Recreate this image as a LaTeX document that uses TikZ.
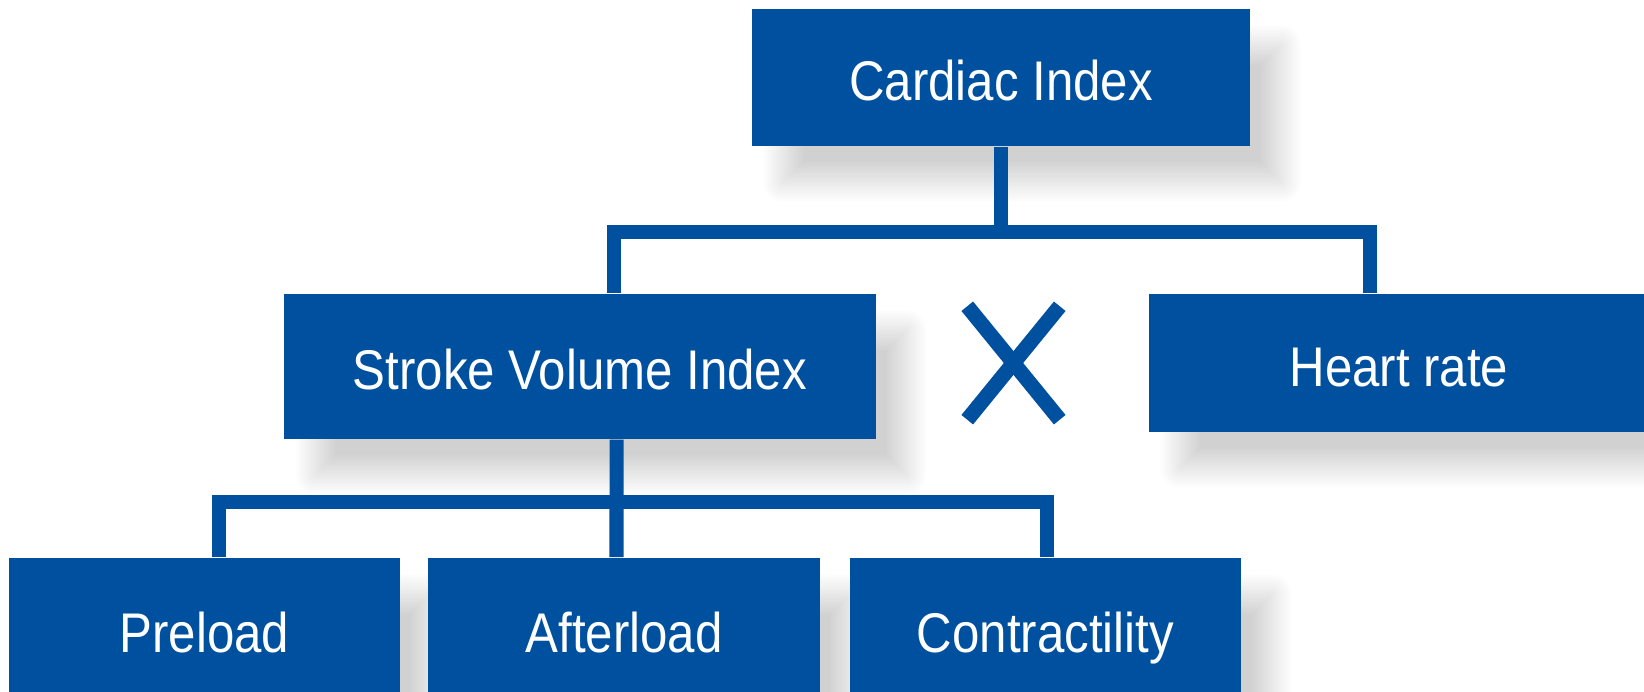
\documentclass[tikz,border=0pt]{standalone}
\usepackage{fontspec}
\setmainfont{Liberation Sans}[FakeStretch=0.88]
\usepackage{xcolor}
\usetikzlibrary{shadows.blur}

\definecolor{ciblue}{HTML}{0050A0}

\begin{document}
\begin{tikzpicture}[x=0.01cm,y=-0.01cm,
    font=\fontsize{15.9}{19}\selectfont,
    box/.style={fill=ciblue,text=white,inner sep=0pt,
      text height=0.46cm,text depth=0pt,
      blur shadow={shadow xshift=0.31cm,shadow yshift=-0.36cm,
        shadow blur radius=0.21cm,shadow blur steps=30,shadow opacity=18}},
    link/.style={draw=ciblue,line width=0.14cm},
    cross/.style={draw=ciblue,line width=0.15cm}]
  \useasboundingbox (0,0) rectangle (1644,692);

  % top level
  \node[box,minimum width=4.98cm,minimum height=1.37cm] (ci) at (1001,77.5) {Cardiac Index};

  % second level, with the multiplication sign between
  \node[box,minimum width=5.91cm,minimum height=1.45cm] (svi) at (580,366.5) {Stroke Volume Index};
  \node[box,minimum width=5.00cm,minimum height=1.38cm] (hr) at (1399,363) {Heart rate};
  \node[inner sep=0pt,minimum width=0.91cm,minimum height=1.12cm] (times) at (1013.5,363) {};

  % third level
  \node[box,minimum width=3.91cm,minimum height=1.42cm] (pre) at (204.5,629) {Preload};
  \node[box,minimum width=3.91cm,minimum height=1.42cm] (aft) at (624,629) {Afterload};
  \node[box,minimum width=3.91cm,minimum height=1.42cm] (con) at (1045.5,629) {Contractility};

  % connectors
  \coordinate (upbar) at (1001,232.5);
  \coordinate (lowbar) at (616.5,502.5);
  \draw[link] (ci.south) -- (upbar);
  \draw[link] ([xshift=0.34cm]svi.north) |- (upbar) -| ([xshift=-0.29cm]hr.north);
  \draw[link] ([xshift=0.365cm]svi.south) -- (lowbar) -- (lowbar |- aft.north);
  \draw[link] ([xshift=0.145cm]pre.north) |- (lowbar) -| ([xshift=0.012cm]con.north);

  \draw[cross] (times.north west) -- (times.south east);
  \draw[cross] (times.north east) -- (times.south west);
\end{tikzpicture}
\end{document}
